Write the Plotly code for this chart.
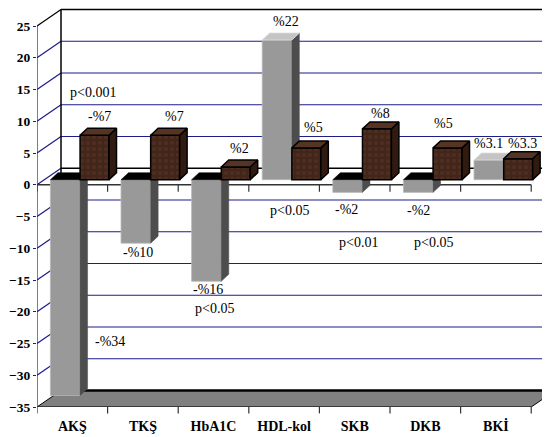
import plotly.graph_objects as go

# ---------------- data ----------------
categories = ["AKŞ", "TKŞ", "HbA1C", "HDL-kol", "SKB", "DKB", "BKİ"]
gray_values = [-34, -10, -16, 22, -2, -2, 3.1]
brown_values = [7, 7, 2, 5, 8, 5, 3.3]
gray_labels = ["-%34", "-%10", "-%16", "%22", "-%2", "-%2", "%3.1"]
brown_labels = ["-%7", "%7", "%2", "%5", "%8", "%5", "%3.3"]
p_labels = ["p<0.001", "p<0.05", "p<0.05", "p<0.01", "p<0.05"]
y_ticks = [-35, -30, -25, -20, -15, -10, -5, 0, 5, 10, 15, 20, 25]

# ---------------- label placement (style, not data) ----------------
gray_label_pos = [(0.53, -24.7), (0.93, -10.7), (1.92, -16.5), (3.03, 25.7),
                  (3.89, -3.9), (4.90, -4.1), (5.89, 6.5)]
brown_label_pos = [(0.39, 10.7), (1.45, 10.7), (2.375, 5.7), (3.41, 9.0),
                   (4.36, 11.2), (5.26, 9.6), (6.38, 6.5)]
p_label_pos = [(0.29, 14.6), (2.02, -19.5), (3.07, -4.1), (4.05, -9.1), (5.11, -9.1)]

# ---------------- geometry / style ----------------
XR = [-0.5, 6.766]
YR = [-35, 27.835]
DX, DY = 0.34, 2.6          # wall depth
BDX, BDY = 0.106, 1.1       # bar depth
BASE = 0.8                  # bar baseline (3D projection)
G_OFF, G_W = -0.31, 0.42
B_OFF, B_W = 0.11, 0.41
NAVY = "#1c1c8a"
FONT = "Times New Roman, Liberation Serif, serif"

n = len(categories)
xs = list(range(n))

def faces(values, off, w):
    sides, tops_pos, tops_neg = ([], []), ([], []), ([], [])
    for i, v in enumerate(values):
        x0 = i + off
        x1 = x0 + w
        lo, hi = min(BASE, BASE + v), max(BASE, BASE + v)
        sx = [x1, x1 + BDX, x1 + BDX, x1, x1, None]
        sy = [lo, lo + BDY, hi + BDY, hi, lo, None]
        sides[0].extend(sx); sides[1].extend(sy)
        tx = [x0, x0 + BDX, x1 + BDX, x1, x0, None]
        ty = [hi, hi + BDY, hi + BDY, hi, hi, None]
        tgt = tops_pos if v >= 0 else tops_neg
        tgt[0].extend(tx); tgt[1].extend(ty)
    return sides, tops_pos, tops_neg

fig = go.Figure()

# gray series (main subplot)
fig.add_trace(go.Bar(x=xs, y=gray_values, base=BASE, offset=G_OFF, width=G_W,
                     marker=dict(color="#999999", line=dict(color="#b8b8b8", width=0.8)),
                     hoverinfo="skip", showlegend=False))
gs, gtp, gtn = faces(gray_values, G_OFF, G_W)
fig.add_trace(go.Scatter(x=gs[0], y=gs[1], mode="lines", fill="toself",
                         fillcolor="#4d4d4d", line=dict(color="#4d4d4d", width=0.5),
                         hoverinfo="skip", showlegend=False))
fig.add_trace(go.Scatter(x=gtp[0], y=gtp[1], mode="lines", fill="toself",
                         fillcolor="#c4c4c4", line=dict(color="#dddddd", width=0.8),
                         hoverinfo="skip", showlegend=False))
fig.add_trace(go.Scatter(x=gtn[0], y=gtn[1], mode="lines", fill="toself",
                         fillcolor="#000000", line=dict(color="#000000", width=0.5),
                         hoverinfo="skip", showlegend=False))

# brown series (overlay subplot, drawn on top)
fig.add_trace(go.Bar(x=xs, y=brown_values, base=BASE, offset=B_OFF, width=B_W,
                     marker=dict(color="#4a2b1d", line=dict(color="#000000", width=1.5),
                                 pattern=dict(shape=".", fgcolor="#583727", bgcolor="#43261a",
                                              size=6, solidity=0.35)),
                     xaxis="x2", yaxis="y2", hoverinfo="skip", showlegend=False))
bs, btp, btn = faces(brown_values, B_OFF, B_W)
fig.add_trace(go.Scatter(x=bs[0], y=bs[1], mode="lines", fill="toself",
                         fillcolor="#311b10", line=dict(color="#000000", width=1.5),
                         xaxis="x2", yaxis="y2", hoverinfo="skip", showlegend=False))
fig.add_trace(go.Scatter(x=btp[0], y=btp[1], mode="lines", fill="toself",
                         fillcolor="#553424", line=dict(color="#000000", width=1.5),
                         xaxis="x2", yaxis="y2", hoverinfo="skip", showlegend=False))

# ---------------- walls, grid, floor (shapes) ----------------
shapes = []
xleft = -0.5
xb0 = xleft + DX          # back wall left edge
xend = n - 0.5
for v in y_ticks:
    if v == -35:
        continue
    col = "#000000" if v in (25, 0) else NAVY
    w = 1.5 if v in (25, 0) else 1.2
    shapes.append(dict(type="line", xref="x", yref="y", layer="below",
                       x0=xb0, x1=XR[1] + 1, y0=v + DY, y1=v + DY,
                       line=dict(color=col, width=w)))
    shapes.append(dict(type="line", xref="x", yref="y", layer="below",
                       x0=xleft, x1=xb0, y0=v, y1=v + DY,
                       line=dict(color="#000000" if v == 25 else NAVY, width=1.2)))
# back wall left vertical edge
shapes.append(dict(type="line", xref="x", yref="y", layer="below",
                   x0=xb0, x1=xb0, y0=-35 + DY, y1=25 + DY,
                   line=dict(color="#000000", width=1.5)))
# floor at -35
shapes.append(dict(type="path", xref="x", yref="y", layer="below",
                   path=f"M {xleft},-35 L {xend},-35 L {xend + DX},{-35 + DY} L {xb0},{-35 + DY} Z",
                   fillcolor="#808080", line=dict(color="#000000", width=1)))
shapes.append(dict(type="line", xref="x", yref="y", layer="below",
                   x0=xb0, x1=XR[1] + 1, y0=-35 + DY, y1=-35 + DY,
                   line=dict(color="#000000", width=2.5)))
# front zero line with ticks
shapes.append(dict(type="line", xref="x", yref="y", layer="below",
                   x0=xleft, x1=xend, y0=0, y1=0,
                   line=dict(color="#333333", width=1.5)))
for i in range(n + 1):
    b = i - 0.5
    shapes.append(dict(type="line", xref="x", yref="y", layer="below",
                       x0=b, x1=b, y0=0, y1=-1.1, line=dict(color="#333333", width=1.2)))
    shapes.append(dict(type="line", xref="x", yref="paper", layer="below",
                       x0=b, x1=b, y0=0, y1=-0.016, line=dict(color="#333333", width=1.2)))
# front bottom edge
shapes.append(dict(type="line", xref="x", yref="y", layer="below",
                   x0=xleft, x1=xend, y0=-35, y1=-35, line=dict(color="#333333", width=1.2)))
# value axis line
shapes.append(dict(type="line", xref="x", yref="y", layer="below",
                   x0=xleft, x1=xleft, y0=-35, y1=25, line=dict(color=NAVY, width=1.2)))

# ---------------- annotations ----------------
ann = []
lab_font = dict(family=FONT, size=14, color="#000000")
for t, (x, y) in zip(gray_labels, gray_label_pos):
    ann.append(dict(x=x, y=y, xref="x", yref="y", text=t, showarrow=False, font=lab_font))
for t, (x, y) in zip(brown_labels, brown_label_pos):
    ann.append(dict(x=x, y=y, xref="x", yref="y", text=t, showarrow=False, font=lab_font))
for t, (x, y) in zip(p_labels, p_label_pos):
    ann.append(dict(x=x, y=y, xref="x", yref="y", text=t, showarrow=False, font=lab_font))

fig.update_layout(
    width=542, height=429,
    margin=dict(l=29, r=0, t=0, b=30, autoexpand=False),
    paper_bgcolor="white", plot_bgcolor="white",
    font=dict(family=FONT),
    barmode="overlay",
    shapes=shapes, annotations=ann,
    xaxis=dict(range=XR, showgrid=False, zeroline=False, showline=False,
               tickmode="array", tickvals=xs, ticktext=categories,
               ticks="outside", ticklen=6, tickcolor="rgba(0,0,0,0)",
               tickfont=dict(family=FONT, size=14, color="#000000", weight="bold")),
    yaxis=dict(range=YR, showgrid=False, zeroline=False, showline=False,
               tickmode="array", tickvals=y_ticks,
               ticks="outside", ticklen=3, tickcolor=NAVY,
               tickfont=dict(family=FONT, size=13.5, color="#000000", weight="bold")),
    xaxis2=dict(range=XR, overlaying="x", visible=False),
    yaxis2=dict(range=YR, overlaying="y", visible=False),
)

fig.write_html("out.html")
